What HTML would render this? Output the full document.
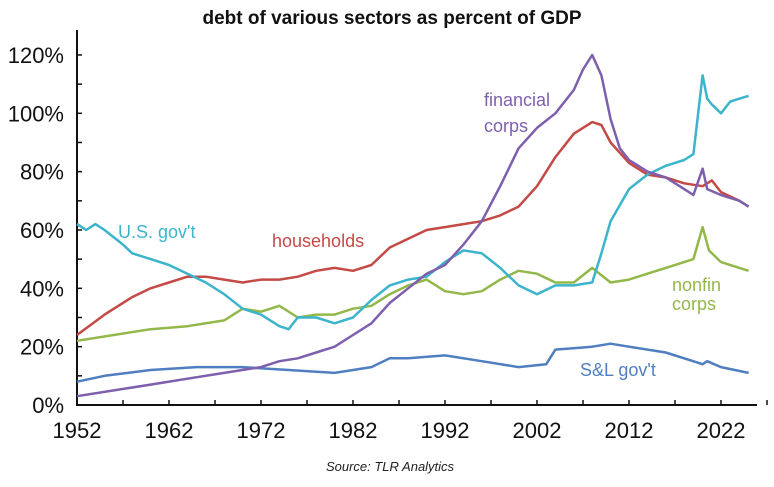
<!DOCTYPE html>
<html><head><meta charset="utf-8"><style>
body{margin:0;background:#fff;width:774px;height:482px;overflow:hidden;font-family:"Liberation Sans",sans-serif}
</style></head><body>
<svg id="chart" width="774" height="482" xmlns="http://www.w3.org/2000/svg">
<text x="392" y="24" text-anchor="middle" font-family="Liberation Sans, sans-serif" font-weight="bold" font-size="19" fill="#111">debt of various sectors as percent of GDP</text>
<g id="axes"></g>
<g id="series"></g>
<text x="390" y="471" text-anchor="middle" font-style="italic" font-size="13" fill="#222">Source: TLR Analytics</text>
<text x="484" y="106" font-size="18" fill="#7e5fae">financial</text>
<text x="484" y="132" font-size="18" fill="#7e5fae">corps</text>
<text x="118" y="238" font-size="18" fill="#3cb4cc">U.S. gov't</text>
<text x="272" y="247" font-size="18" fill="#c44a46">households</text>
<text x="672" y="291" font-size="18" fill="#93b84a">nonfin</text>
<text x="672" y="310" font-size="18" fill="#93b84a">corps</text>
<text x="580" y="376" font-size="18" fill="#4f7fc0">S&amp;L gov't</text>
</svg>
<script>
const yTicks=[0,20,40,60,80,100,120];
const xTicks=[1952,1962,1972,1982,1992,2002,2012,2022];
const usgovYears=[1952,1953,1954,1955,1957,1958,1960,1962,1964,1966,1968,1970,1972,1974,1975,1976,1978,1980,1982,1984,1986,1988,1990,1992,1994,1996,1998,2000,2002,2004,2006,2008,2009,2010,2012,2014,2016,2018,2019,2020,2020.5,2021,2022,2023,2024,2025];
const usgovVals=[62,60,62,60,55,52,50,48,45,42,38,33,31,27,26,30,30,28,30,36,41,43,44,49,53,52,47,41,38,41,41,42,52,63,74,79,82,84,86,113,105,103,100,104,105,106];
const hhYears=[1952,1955,1958,1960,1962,1964,1966,1968,1970,1972,1974,1976,1978,1980,1982,1984,1986,1988,1990,1992,1994,1996,1998,2000,2002,2004,2006,2008,2009,2010,2012,2014,2016,2018,2020,2021,2022,2024,2025];
const hhVals=[24,31,37,40,42,44,44,43,42,43,43,44,46,47,46,48,54,57,60,61,62,63,65,68,75,85,93,97,96,90,83,79,78,76,75,77,73,70,68];
const finYears=[1952,1956,1960,1964,1968,1972,1974,1976,1978,1980,1982,1984,1986,1988,1990,1992,1994,1996,1998,2000,2002,2004,2006,2007,2008,2009,2010,2011,2012,2014,2016,2018,2019,2020,2020.5,2022,2024,2025];
const finVals=[3,5,7,9,11,13,15,16,18,20,24,28,35,40,45,48,55,63,75,88,95,100,108,115,120,113,98,88,84,80,78,74,72,81,74,72,70,68];
const nfYears=[1952,1956,1960,1964,1968,1970,1972,1974,1976,1978,1980,1982,1984,1986,1988,1990,1992,1994,1996,1998,2000,2002,2004,2006,2008,2010,2012,2014,2016,2018,2019,2020,2020.7,2022,2024,2025];
const nfVals=[22,24,26,27,29,33,32,34,30,31,31,33,34,38,41,43,39,38,39,43,46,45,42,42,47,42,43,45,47,49,50,61,53,49,47,46];
const slYears=[1952,1955,1960,1965,1970,1975,1980,1984,1986,1988,1992,1996,2000,2003,2004,2008,2010,2012,2016,2020,2020.5,2022,2025];
const slVals=[8,10,12,13,13,12,11,13,16,16,17,15,13,14,19,20,21,20,18,14,15,13,11];
const NS="http://www.w3.org/2000/svg";
const X=y=>77+(y-1952)*9.2;
const Y=v=>405-v*2.917;
const axes=document.getElementById('axes');
function mk(tag,attrs,parent){const e=document.createElementNS(NS,tag);for(const k in attrs)e.setAttribute(k,attrs[k]);parent.appendChild(e);return e;}
const yl=mk('line',{x1:77,y1:30,x2:77,y2:405,stroke:'#111','stroke-width':2},axes);


const xl=mk('line',{x1:76,y1:405,x2:757,y2:405,stroke:'#111','stroke-width':2},axes);


for(let v=0;v<=120;v+=10){mk('line',{x1:77,y1:Y(v),x2:82,y2:Y(v),stroke:'#111','stroke-width':1.5},axes);}
yTicks.forEach(v=>{const t=mk('text',{x:64,y:Y(v)+8,'text-anchor':'end','font-size':22,fill:'#111'},axes);t.textContent=v+'%';

});
for(let y=1957;y<=2027;y+=5){mk('line',{x1:X(y),y1:405,x2:X(y),y2:400,stroke:'#111','stroke-width':1.5},axes);}
xTicks.forEach(y=>{const t=mk('text',{x:X(y),y:438,'text-anchor':'middle','font-size':22,fill:'#111'},axes);t.textContent=y;

});
const g=document.getElementById('series');
function line(xs,vs,color,name){const d=xs.map((x,i)=>(i?'L':'M')+X(x).toFixed(1)+','+Y(vs[i]).toFixed(1)).join(' ');
const p=mk('path',{d:d,fill:'none',stroke:color,'stroke-width':2.5,'stroke-linejoin':'round'},g);

}
line(slYears,slVals,'#4f7fc0','series-sl-gov');
line(nfYears,nfVals,'#93b84a','series-nonfin-corps');
line(hhYears,hhVals,'#c44a46','series-households');
line(usgovYears,usgovVals,'#3cb4cc','series-us-gov');
line(finYears,finVals,'#7e5fae','series-financial-corps');
</script>
</body></html>
